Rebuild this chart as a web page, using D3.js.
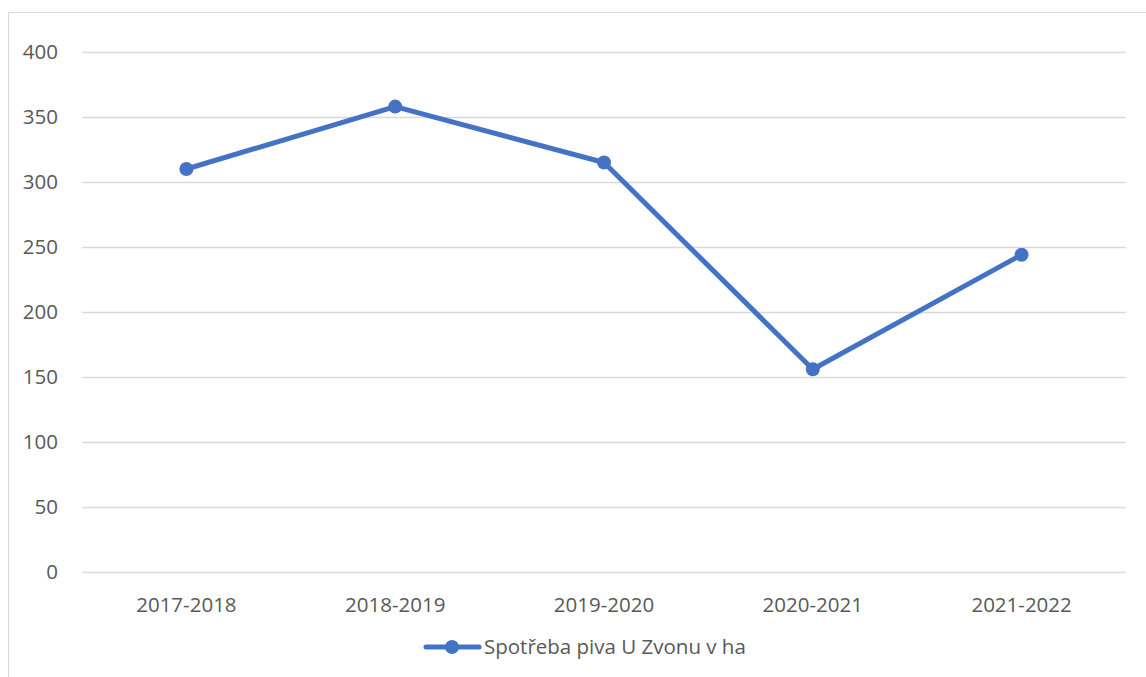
<!DOCTYPE html>
<html><head><meta charset="utf-8">
<script src="https://cdn.jsdelivr.net/npm/d3@7"></script>
<style>body{margin:0;background:#fff}svg{display:block}text{font-family:"Open Sans","Liberation Sans",sans-serif;fill:#595959}</style>
</head><body>
<svg id="c" width="1146" height="677"></svg>
<script>
const categories = ["2017-2018","2018-2019","2019-2020","2020-2021","2021-2022"];
const values = [310, 358, 315, 156, 244];
const yTicks = [0,50,100,150,200,250,300,350,400];
const seriesName = "Spotřeba piva U Zvonu v ha";

(function(){
const svg = d3.select("#c");
const color = "#4472C4";
const fs = 20.5;
svg.append("rect").attr("x",8.5).attr("y",12.5).attr("width",1150).attr("height",700)
  .attr("fill","none").attr("stroke","#d9d9d9").attr("stroke-width",1);

const pL = 82, pR = 1126, pT = 52, pB = 572;
const x = d3.scalePoint().domain(categories).range([pL, pR]).padding(0.5);
const y = d3.scaleLinear().domain([0,400]).range([pB, pT]);

const g = svg.append("g");
g.selectAll("line.grid").data(yTicks).join("line").attr("class","grid")
  .attr("x1",pL).attr("x2",pR).attr("y1",d=>y(d)+0.5).attr("y2",d=>y(d)+0.5)
  .attr("stroke","#d9d9d9").attr("stroke-width",1.5);

g.selectAll("text.yt").data(yTicks).join("text").attr("class","yt")
  .attr("x",58).attr("y",d=>y(d)).attr("dy","0.35em").attr("text-anchor","end")
  .attr("font-size",fs).text(d=>d);

g.selectAll("text.xt").data(categories).join("text").attr("class","xt")
  .attr("x",d=>x(d)).attr("y",605).attr("dy","0.35em").attr("text-anchor","middle")
  .attr("font-size",fs).text(d=>d);

const line = d3.line().x((d,i)=>x(categories[i])).y(d=>y(d));
g.append("path").datum(values).attr("d",line).attr("fill","none")
  .attr("stroke",color).attr("stroke-width",5).attr("stroke-linejoin","round").attr("stroke-linecap","round");
g.selectAll("circle.pt").data(values).join("circle").attr("class","pt")
  .attr("cx",(d,i)=>x(categories[i])).attr("cy",d=>y(d)).attr("r",7).attr("fill",color);

const lg = svg.append("g");
lg.append("line").attr("x1",426).attr("x2",479).attr("y1",647).attr("y2",647)
  .attr("stroke",color).attr("stroke-width",5).attr("stroke-linecap","round");
lg.append("circle").attr("cx",452).attr("cy",647).attr("r",7).attr("fill",color);
lg.append("text").attr("x",484).attr("y",647).attr("dy","0.35em").attr("font-size",fs).text(seriesName);
})();
</script>
</body></html>
